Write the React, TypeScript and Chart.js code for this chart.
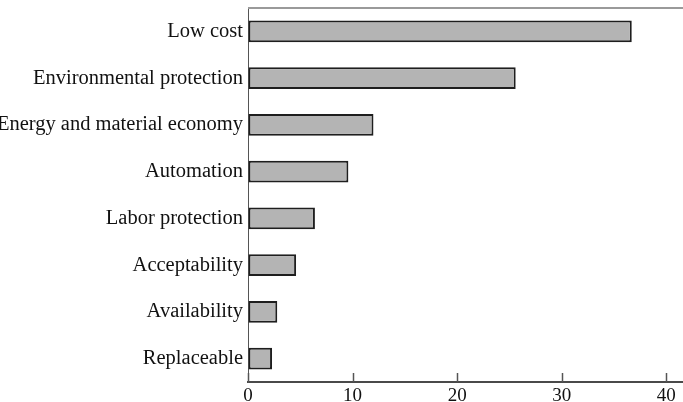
import { useEffect, useRef } from 'react';
import { Chart, registerables } from 'chart.js';

Chart.register(...registerables);

const categories = [
  'Low cost',
  'Environmental protection',
  'Energy and material economy',
  'Automation',
  'Labor protection',
  'Acceptability',
  'Availability',
  'Replaceable',
];
const values = [36.7, 25.6, 12.0, 9.6, 6.4, 4.6, 2.8, 2.3];
const xTickValues = [0, 10, 20, 30, 40];
const xMin = 0;
const xMax = 41.6;

const framePlugin = {
  id: 'framePlugin',
  afterDraw(chart: any) {
    const { ctx, chartArea, scales } = chart;
    const x = scales.x;
    ctx.save();
    ctx.strokeStyle = '#9a9a9a';
    ctx.lineWidth = 2;
    ctx.beginPath();
    ctx.moveTo(chartArea.left, chartArea.top);
    ctx.lineTo(chart.width, chartArea.top);
    ctx.stroke();
    ctx.strokeStyle = '#555';
    ctx.lineWidth = 1.5;
    for (const t of xTickValues) {
      const px = Math.round(x.getPixelForValue(t)) + 0.5;
      ctx.beginPath();
      ctx.moveTo(px, chartArea.bottom);
      ctx.lineTo(px, chartArea.bottom - 9);
      ctx.stroke();
    }
    ctx.restore();
  },
};

export default function App() {
  const ref = useRef<HTMLCanvasElement | null>(null);

  useEffect(() => {
    document.body.style.margin = '0';
    const canvas = ref.current;
    if (!canvas) return;
    const chart = new Chart(canvas, {
      type: 'bar',
      data: {
        labels: categories,
        datasets: [
          {
            data: values,
            backgroundColor: '#b4b4b4',
            borderColor: '#1e1e1e',
            borderWidth: 2,
            borderSkipped: false,
            barPercentage: 0.46,
            categoryPercentage: 1,
          },
        ],
      },
      options: {
        indexAxis: 'y',
        animation: false,
        responsive: false,
        devicePixelRatio: 1,
        layout: { padding: { top: 8, left: 0, right: 0, bottom: 0 } },
        plugins: {
          legend: { display: false },
          tooltip: { enabled: false },
        },
        scales: {
          x: {
            type: 'linear',
            min: xMin,
            max: xMax,
            afterBuildTicks: (s: any) => {
              s.ticks = xTickValues.map((v) => ({ value: v }));
            },
            afterFit: (s: any) => {
              s.height = 20;
              s.paddingLeft = 0;
              s.paddingRight = 0;
            },
            grid: { display: true, drawOnChartArea: false, drawTicks: false },
            border: { display: true, color: '#4a4a4a', width: 2 },
            ticks: {
              padding: 3,
              color: '#111',
              font: { family: '"Liberation Serif", "Times New Roman", serif', size: 19 },
            },
          },
          y: {
            type: 'category',
            afterFit: (s: any) => {
              s.width = 248;
              s.paddingTop = 0;
              s.paddingBottom = 0;
            },
            grid: { display: true, drawOnChartArea: false, drawTicks: false },
            border: { display: true, color: '#555', width: 1 },
            ticks: {
              padding: 5,
              color: '#111',
              font: { family: '"Liberation Serif", "Times New Roman", serif', size: 20.5 },
            },
          },
        },
      },
      plugins: [framePlugin],
    });
    return () => chart.destroy();
  }, []);

  return (
    <div style={{ width: 683, height: 402, position: 'relative' }}>
      <canvas ref={ref} width={683} height={402} style={{ display: 'block' }} />
    </div>
  );
}
